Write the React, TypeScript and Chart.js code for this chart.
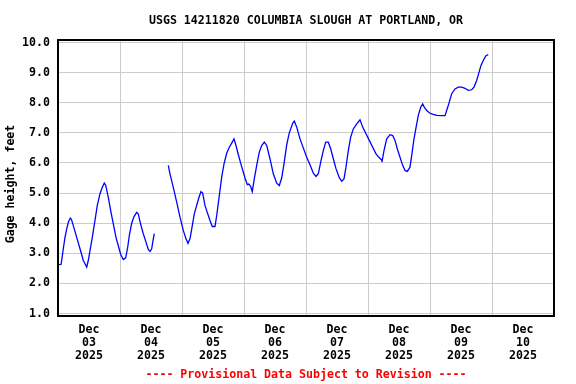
import { useEffect, useRef } from "react";
import { Chart, registerables } from "chart.js";

Chart.register(...registerables);

const TITLE = "USGS 14211820 COLUMBIA SLOUGH AT PORTLAND, OR";
const Y_TITLE = "Gage height, feet";
const FOOTER = "---- Provisional Data Subject to Revision ----";
const monthLabel = "Dec";
const yearLabel = "2025";
const dayLabels = ["03", "04", "05", "06", "07", "08", "09", "10"];
const yTickValues = [1, 2, 3, 4, 5, 6, 7, 8, 9, 10];

// hours since Dec 03 00:00
const hours = [
  0, 1.16, 1.43, 2.05, 2.71, 3.37, 3.99, 4.76, 5.2, 5.92, 7.24, 8.52, 9.79, 10.45, 11.11,
  11.73, 12.39, 13.28, 14.32, 15.21, 16.26, 17.15, 17.92, 18.46, 19.47, 20.52, 21.41, 22.45,
  23.34, 24.27, 25.28, 26.21, 26.98, 27.6, 28.53, 29.42, 30.46, 31.08, 32.13, 33.02, 34.06,
  34.95, 35.61, 36.27, 36.89, 37.28,
  40,
  42.7, 43.35, 44.63, 45.95, 47.23, 48.5, 49.55, 50.32, 51.1, 51.99, 52.76, 53.69, 54.58,
  55.35, 56.0, 56.9, 57.95, 58.84, 59.73, 60.77, 61.43, 62.44, 63.37, 64.26, 65.3, 66.31,
  67.24, 68.13, 68.9, 69.79, 70.95, 72.39, 73.28, 73.9, 74.59, 75.21, 75.98, 76.92, 77.92,
  78.85, 79.86, 80.79, 82.06, 83.34, 84.66, 85.66, 86.59, 87.48, 88.53, 89.53, 90.85, 91.47,
  92.4, 93.68, 94.95, 96.27, 97.55, 98.83, 99.87, 100.76, 101.69, 102.7, 103.63, 104.63,
  105.56, 106.57, 107.61, 108.89, 109.82, 110.71, 111.48, 112.37, 113.3, 114.31, 115.63,
  116.9, 117.95, 119.23, 120.5, 121.82, 123.1, 124.37, 125.3, 125.4, 126.19, 127.24, 128.52,
  129.56, 130.45, 131.34, 132.39, 133.43, 134.32, 135.21, 136.26, 136.92, 137.81, 138.7,
  139.47, 140.4, 141.17, 141.79, 142.72, 144.0, 145.28, 146.59, 148.53, 149.81, 150.46,
  151.47, 152.4, 153.68, 154.95, 156.27, 157.55, 158.83, 160.14, 161.03, 162.08, 162.97,
  163.74, 164.63, 165.56, 166.57,
];

const stage = [
  2.62, 2.63, 2.76, 3.15, 3.53, 3.81, 4.03, 4.17, 4.13, 3.92, 3.53, 3.15, 2.76, 2.65, 2.54,
  2.76, 3.09, 3.53, 4.09, 4.59, 4.98, 5.19, 5.33, 5.26, 4.86, 4.36, 3.98, 3.53,
  3.25, 2.96, 2.79, 2.85, 3.2, 3.59, 4.0, 4.22, 4.36, 4.3, 3.92, 3.65, 3.37,
  3.13, 3.06, 3.15, 3.48, 3.65,
  null,
  5.92, 5.64, 5.19, 4.7, 4.2, 3.76, 3.48, 3.33, 3.48, 3.92, 4.31, 4.59, 4.86,
  5.05, 5.0, 4.59, 4.31, 4.09, 3.89, 3.89, 4.25, 4.92, 5.53, 5.97, 6.32, 6.52,
  6.66, 6.8, 6.58, 6.28, 5.92, 5.5, 5.28, 5.3, 5.22, 5.05, 5.47, 5.92, 6.36,
  6.58, 6.69, 6.58, 6.14, 5.64, 5.33, 5.25, 5.5, 5.97, 6.6, 7.0, 7.32, 7.39,
  7.19, 6.8, 6.5, 6.19, 5.94, 5.66, 5.55, 5.64, 6.03, 6.41, 6.69, 6.69,
  6.47, 6.14, 5.81, 5.51, 5.39, 5.47, 5.86, 6.41, 6.86, 7.13, 7.3,
  7.43, 7.19, 6.97, 6.75, 6.52, 6.3, 6.17, 6.1, 6.03, 6.41, 6.8, 6.94,
  6.91, 6.75, 6.47, 6.19, 5.92, 5.75, 5.72, 5.86, 6.25, 6.8, 7.22,
  7.58, 7.85, 7.96, 7.85, 7.74, 7.65, 7.61, 7.58, 7.57, 7.57, 7.74,
  8.02, 8.3, 8.46, 8.52, 8.52, 8.48, 8.41, 8.43, 8.52, 8.74, 9.01,
  9.24, 9.4, 9.55, 9.6,
];

const FAMILY = '"DejaVu Sans Mono", "Liberation Mono", monospace';
const FONT_SIZE = 11.6;

export default function App() {
  const ref = useRef<HTMLCanvasElement>(null);

  useEffect(() => {
    if (!ref.current) return;
    const textPlugin = {
      id: "usgsText",
      afterDraw(chart: any) {
        const { ctx, chartArea: a } = chart;
        ctx.save();
        ctx.strokeStyle = "#000000";
        ctx.lineWidth = 2;
        ctx.strokeRect(a.left, a.top, a.right - a.left, a.bottom - a.top);
        ctx.font = `bold ${FONT_SIZE}px ${FAMILY}`;
        ctx.textAlign = "center";
        ctx.textBaseline = "middle";
        ctx.fillStyle = "#000000";
        ctx.fillText(TITLE, (a.left + a.right) / 2, 21);
        ctx.fillStyle = "#ff0000";
        ctx.fillText(FOOTER, (a.left + a.right) / 2, 375);
        ctx.fillStyle = "#000000";
        ctx.translate(11, 184);
        ctx.rotate(-Math.PI / 2);
        ctx.fillText(Y_TITLE, 0, 0);
        ctx.restore();
      },
    };

    const tickFont = { family: FAMILY, weight: "bold" as const, size: FONT_SIZE, lineHeight: 1.095 };

    const chart = new Chart(ref.current, {
      type: "line",
      data: {
        datasets: [
          {
            data: hours.map((h, i) => ({ x: h, y: stage[i] as any })),
            borderColor: "#0000ff",
            borderWidth: 1.3,
            pointRadius: 0,
            tension: 0,
            spanGaps: false,
            fill: false,
          },
        ],
      },
      options: {
        responsive: false,
        animation: false,
        events: [],
        layout: { padding: { left: 0, top: 40, right: 22, bottom: 0 } },
        plugins: {
          legend: { display: false },
          tooltip: { enabled: false },
          title: { display: false },
        },
        scales: {
          x: {
            type: "linear",
            min: 0,
            max: 192,
            afterBuildTicks: (s: any) => {
              const t = [];
              for (let v = 0; v <= 192; v += 12) t.push({ value: v });
              s.ticks = t;
            },
            afterFit: (s: any) => {
              s.height = 68;
            },
            border: { display: false },
            grid: {
              drawTicks: false,
              lineWidth: 1,
              color: (c: any) =>
                c.tick && c.tick.value % 24 === 0 ? "#cccccc" : "rgba(0,0,0,0)",
            },
            ticks: {
              autoSkip: false,
              maxRotation: 0,
              minRotation: 0,
              padding: 8,
              color: "#000000",
              font: tickFont,
              callback: (value: any) => {
                const v = Number(value);
                if (v % 24 === 12) {
                  const d = (v - 12) / 24;
                  return [monthLabel, dayLabels[d], yearLabel];
                }
                return "";
              },
            },
          },
          y: {
            type: "linear",
            min: 0.917,
            max: 10.083,
            afterBuildTicks: (s: any) => {
              s.ticks = yTickValues.map((v) => ({ value: v }));
            },
            afterFit: (s: any) => {
              s.width = 58;
            },
            border: { display: false },
            grid: { drawTicks: false, color: "#cccccc", lineWidth: 1 },
            ticks: {
              padding: 8,
              color: "#000000",
              font: tickFont,
              callback: (value: any) => Number(value).toFixed(1),
            },
          },
        },
      },
      plugins: [textPlugin],
    });

    return () => chart.destroy();
  }, []);

  return (
    <div style={{ position: "fixed", left: 0, top: 0, width: 576, height: 384, background: "#ffffff" }}>
      <canvas ref={ref} width={576} height={384} style={{ display: "block" }} />
    </div>
  );
}
